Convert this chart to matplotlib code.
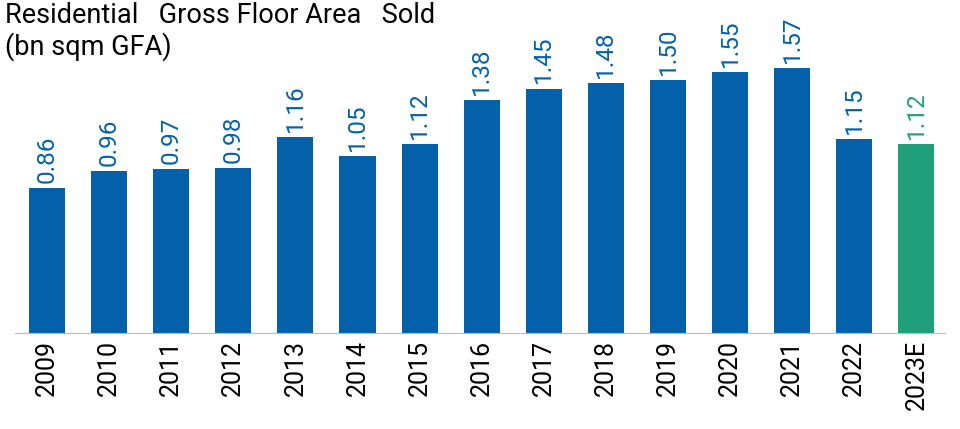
import matplotlib.pyplot as plt

plt.rcParams['font.family'] = ['Roboto', 'DejaVu Sans']

years = ['2009', '2010', '2011', '2012', '2013', '2014', '2015', '2016',
         '2017', '2018', '2019', '2020', '2021', '2022', '2023E']
values = [0.86, 0.96, 0.97, 0.98, 1.16, 1.05, 1.12, 1.38,
          1.45, 1.48, 1.50, 1.55, 1.57, 1.15, 1.12]

blue = '#0461A9'
green = '#20A07A'
colors = [blue] * (len(years) - 1) + [green]

fig = plt.figure(figsize=(9.6, 4.29), dpi=100)
ax = fig.add_axes([0.0156, 0.2238, 0.9688, 0.7762])
x = range(len(years))
ax.bar(x, values, width=0.58, color=colors, zorder=2)
for i, v in enumerate(values):
    ax.text(i, v + 0.03, f'{v:.2f}', rotation=90, ha='center', va='bottom',
            fontsize=17.5, color=colors[i])

ax.set_xlim(-0.515, 14.46)
ax.set_ylim(0, 1.975)
ax.set_xticks(list(x))
ax.set_xticklabels(years, rotation=90, fontsize=18)
ax.tick_params(axis='x', length=0, pad=5)
ax.set_yticks([])
for s in ['top', 'right', 'left']:
    ax.spines[s].set_visible(False)
ax.spines['bottom'].set_color('#bbbbbb')

fig.text(0.005, 0.995, 'Residential   Gross Floor Area   Sold\n(bn sqm GFA)',
         ha='left', va='top', fontsize=19.5, linespacing=1.15)

fig.savefig('out.png', dpi=100)
